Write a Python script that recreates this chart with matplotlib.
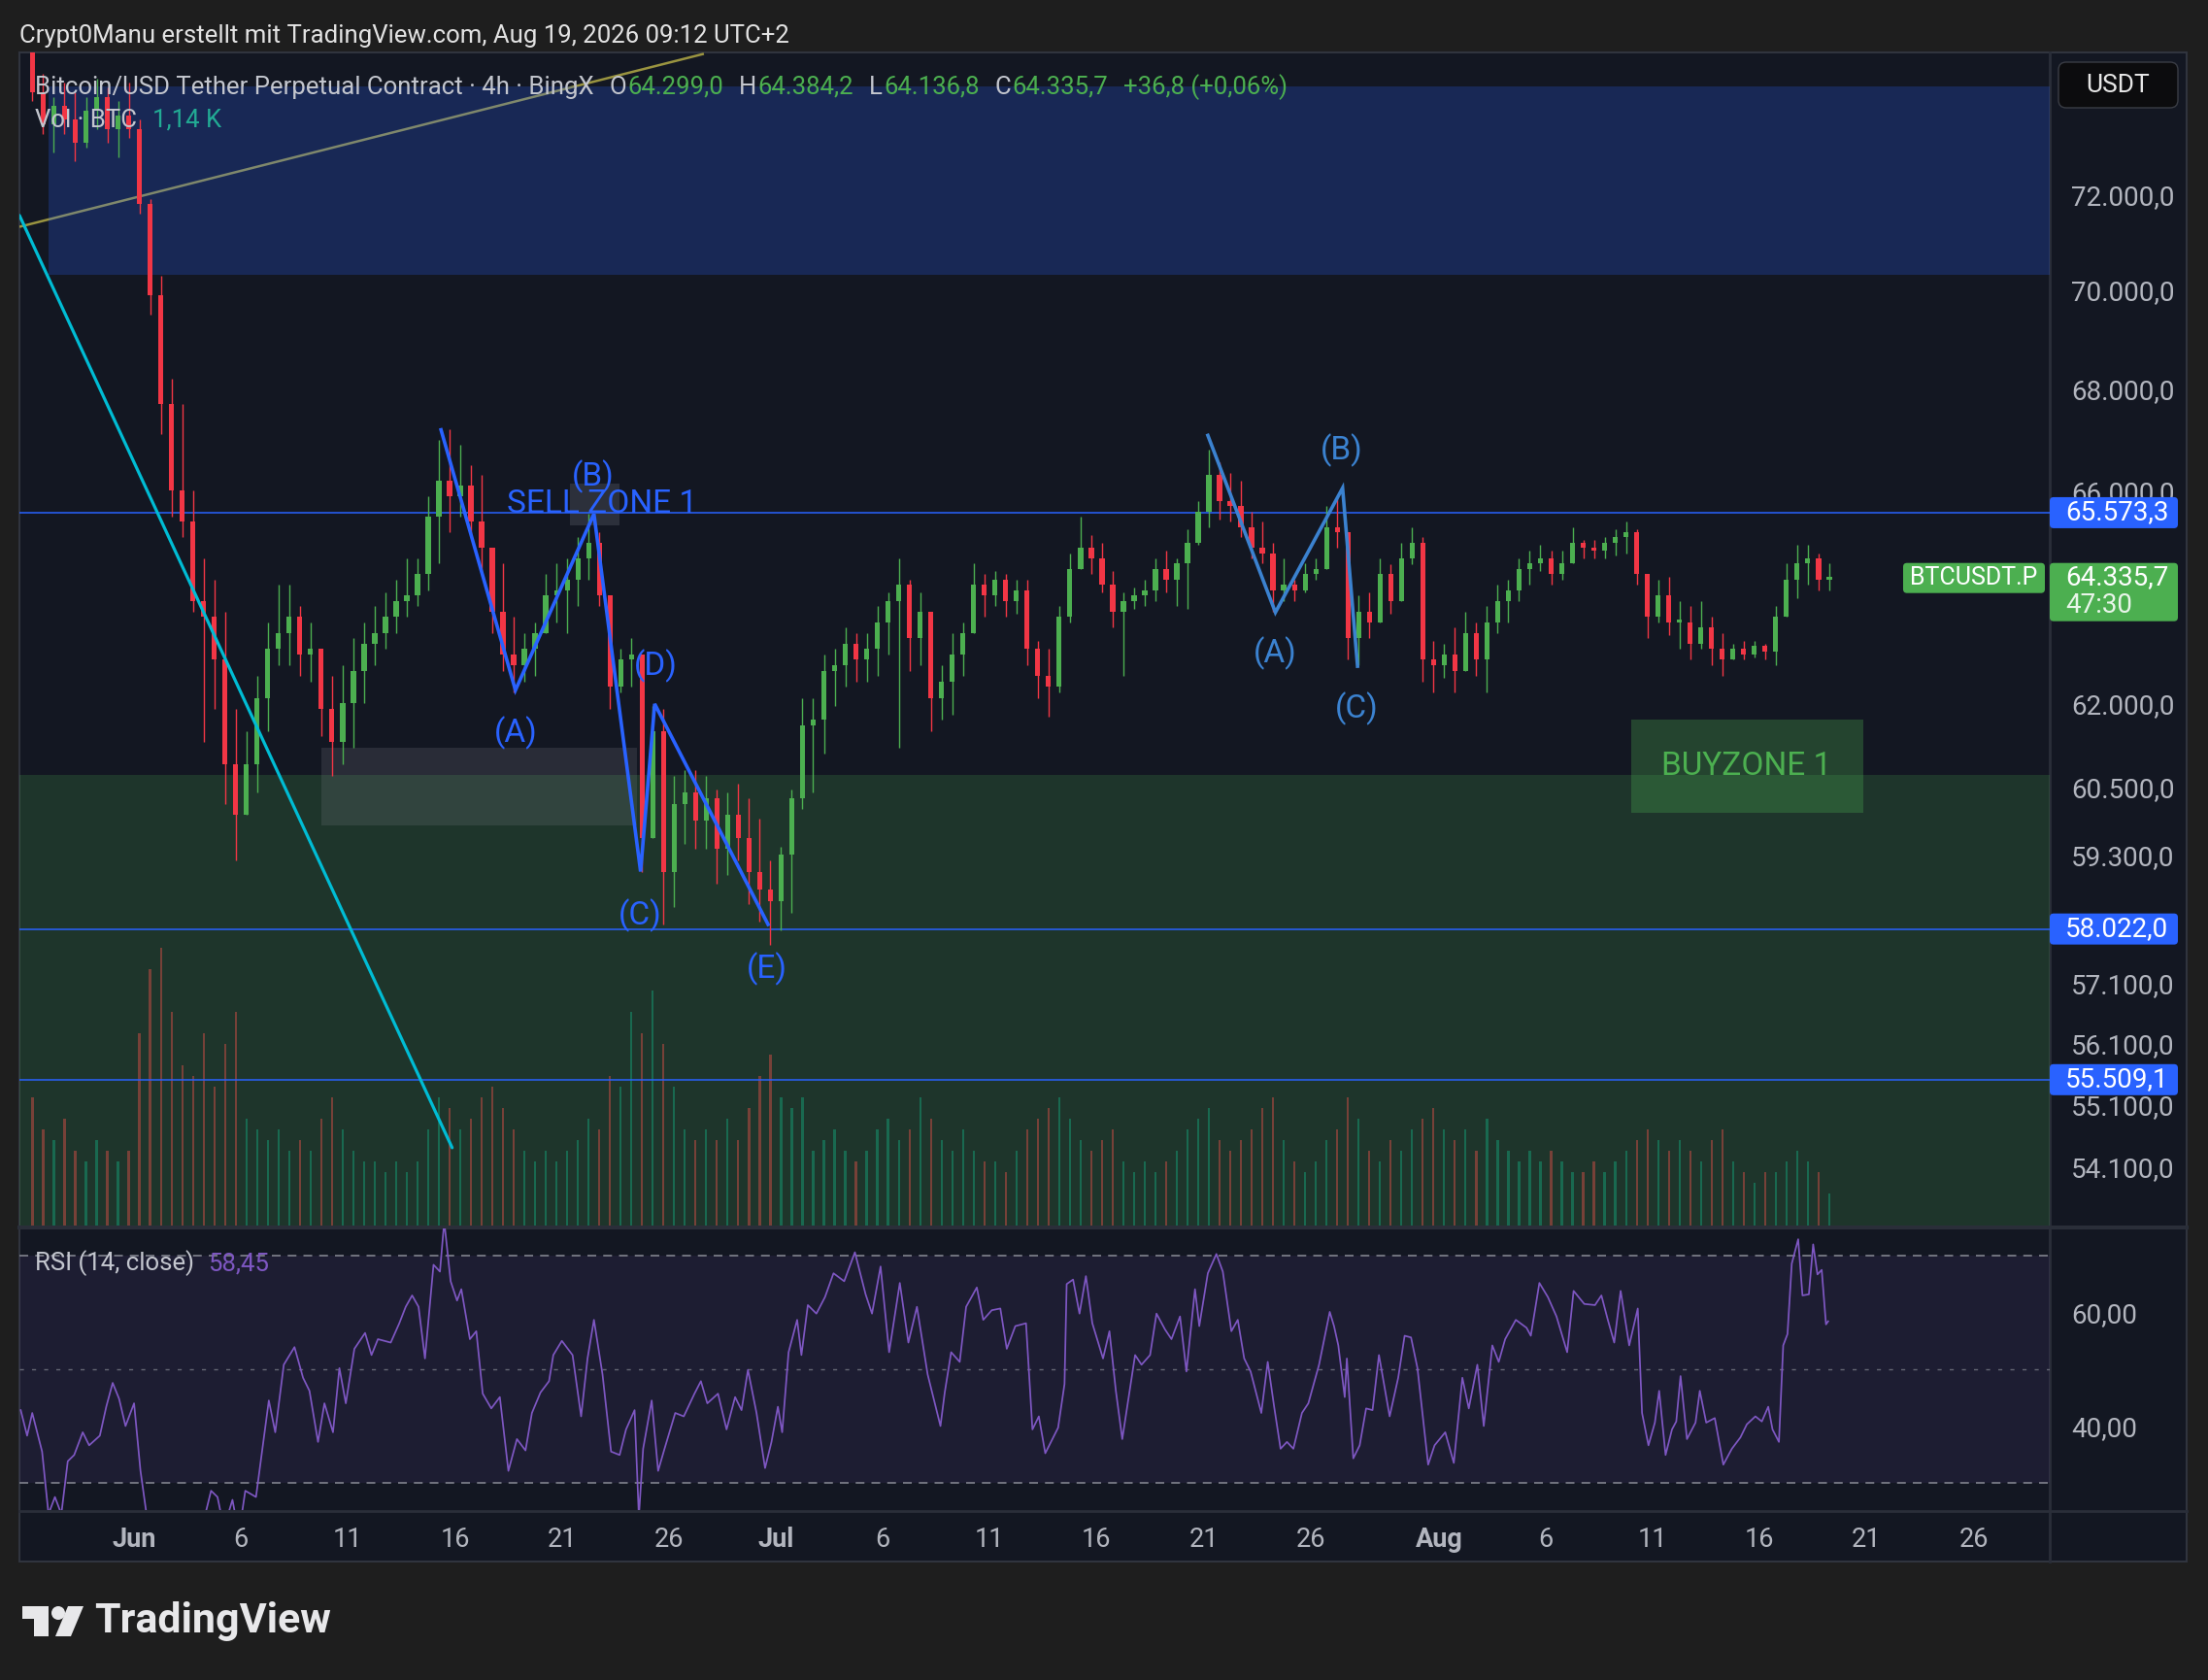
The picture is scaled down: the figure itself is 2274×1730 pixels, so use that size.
import numpy as np
import pandas as pd
import matplotlib
matplotlib.use("Agg")
import matplotlib.pyplot as plt
from matplotlib.patches import Rectangle, FancyBboxPatch, Circle, Polygon
from matplotlib.ticker import FixedLocator, NullLocator, NullFormatter, FuncFormatter

plt.rcParams['font.family'] = ['Roboto', 'DejaVu Sans']

first_open = 75200
closes = [
    74200, 73500, 73900, 73600, 73100, 73800, 74100, 73400, 73700, 73400,
    71800, 69900, 67700, 66000, 65400, 63900, 63600, 62800, 60900, 60000,
    60900, 62100, 63000, 63300, 63600, 62900, 63000, 61900, 61300, 62000,
    62600, 63100, 63300, 63600, 63900, 64000, 64400, 65500, 66200, 65900,
    66100, 65400, 64900, 63700, 62900, 62700, 63000, 63300, 64000, 64100,
    64300, 64700, 65000, 64000, 62300, 62800, 62900, 59600, 61500, 59000,
    60200, 60400, 59900, 60300, 59400, 60000, 59600, 59000, 58700, 58500,
    59300, 60300, 61600, 61700, 62600, 62700, 63100, 62800, 63000, 63500,
    63900, 64200, 63200, 63700, 62100, 62400, 62900, 63300, 64200, 64000,
    64300, 63900, 64100, 63000, 62500, 62300, 63600, 64500, 64900, 64700,
    64200, 63700, 63900, 64000, 64100, 64500, 64300, 64600, 65000, 65600,
    66300, 65800, 65700, 65300, 64900, 64800, 64100, 64200, 64100, 64400,
    64500, 65300, 65200, 63200, 63700, 63500, 64400, 63900, 64700, 65000,
    62800, 62700, 62900, 62600, 63300, 62800, 63500, 63900, 64100, 64500,
    64600, 64700, 64400, 64600, 65000, 64900, 64850, 65000, 65100, 65200,
    64400, 63600, 64000, 63500, 63500, 63100, 63400, 63000, 62800, 63000,
    62900, 63050, 62950, 63600, 64300, 64600, 64700, 64300, 64335.7,
]
highs = [
    75400, 74600, 74100, 74400, 74200, 74100, 74500, 74300, 74000, 74400,
    73600, 71900, 70300, 68200, 67700, 66000, 64700, 64300, 63700, 61900,
    61500, 62500, 63500, 64200, 64200, 63800, 63500, 63000, 62500, 62700,
    63200, 63500, 63800, 64050, 64300, 64700, 64700, 65900, 67000, 67200,
    66900, 66500, 66300, 64900, 64600, 63600, 63300, 63500, 64400, 64600,
    64700, 65100, 65550, 65200, 64000, 63000, 63200, 62900, 61960, 61900,
    60700, 60800, 60800, 60700, 60450, 60400, 60550, 60300, 59940, 59200,
    59440, 60450, 62100, 62100, 62900, 63000, 63400, 63300, 63300, 63800,
    64050, 64700, 64300, 64050, 63400, 62700, 63300, 63500, 64600, 64400,
    64450, 64400, 64300, 64300, 63150, 63000, 63800, 64800, 65500, 65150,
    65000, 64450, 64050, 64150, 64300, 64700, 64850, 64700, 65250, 65800,
    66800, 66550, 66350, 66200, 65600, 65400, 65000, 64700, 64300, 64600,
    64700, 65700, 65900, 65100, 64000, 64050, 64700, 64580, 65000, 65300,
    65100, 63150, 63100, 63400, 63700, 63500, 63800, 64200, 64300, 64700,
    64850, 64950, 64850, 64850, 65300, 65050, 65050, 65100, 65250, 65400,
    65250, 64350, 64300, 64350, 63900, 63800, 63900, 63600, 63300, 63100,
    63150, 63150, 63100, 63800, 64600, 64950, 64950, 64800, 64600,
]
lows = [
    74000, 73300, 72900, 73300, 72700, 73000, 73400, 73100, 72800, 73200,
    71600, 69500, 67100, 65500, 65100, 63700, 61300, 61900, 60200, 59200,
    60300, 60400, 61500, 62700, 62700, 62500, 62400, 61400, 60700, 60900,
    61200, 62000, 62700, 63000, 63300, 63600, 63800, 64100, 64600, 65200,
    65500, 65100, 64400, 63300, 62600, 62200, 62400, 62500, 63300, 63500,
    63300, 63800, 64300, 63800, 61900, 62200, 62300, 59000, 59700, 58100,
    58400, 59500, 59400, 59400, 58800, 58950, 59200, 58450, 58150, 57750,
    58000, 58300, 60100, 60400, 61100, 61960, 62300, 62400, 62400, 62500,
    62900, 61200, 62600, 62700, 61500, 61700, 61800, 62500, 63500, 63600,
    63800, 63600, 63650, 62700, 62100, 61750, 62200, 63500, 64600, 64400,
    64050, 63400, 62500, 63750, 63800, 63900, 64050, 63800, 63750, 64950,
    65300, 65450, 65400, 65100, 64700, 64600, 63700, 63900, 63900, 64050,
    64300, 64700, 64900, 62800, 62700, 63200, 63650, 63650, 64050, 64580,
    62400, 62200, 62470, 62200, 62750, 62500, 62200, 63300, 63500, 63900,
    64200, 64450, 64200, 64300, 64750, 64700, 64700, 64700, 64750, 64800,
    64200, 63200, 63500, 63250, 63000, 62800, 63000, 62700, 62500, 62800,
    62800, 62850, 62800, 62700, 63800, 63950, 64200, 64100, 64100,
]
# volume per 12h, K BTC
volumes = [
    12, 9, 8, 10, 7, 6, 8, 7, 6, 7,
    18, 24, 26, 20, 15, 14, 18, 13, 17, 20,
    10, 9, 8, 9, 7, 8, 7, 10, 12, 9,
    7, 6, 6, 5, 6, 5, 6, 9, 12, 11,
    9, 10, 12, 13, 11, 9, 7, 6, 7, 6,
    7, 8, 10, 9, 14, 13, 20, 18, 22, 17,
    13, 9, 8, 9, 8, 10, 8, 11, 14, 16,
    12, 11, 12, 7, 8, 9, 7, 6, 7, 9,
    10, 8, 9, 12, 10, 8, 7, 9, 7, 6,
    6, 5, 7, 9, 10, 11, 12, 10, 8, 7,
    8, 9, 6, 5, 6, 5, 6, 7, 9, 10,
    11, 8, 7, 8, 9, 11, 12, 8, 6, 5,
    6, 8, 9, 12, 10, 7, 6, 8, 7, 9,
    10, 11, 9, 8, 9, 7, 10, 8, 7, 6,
    7, 6, 7, 6, 5, 5, 6, 5, 6, 7,
    8, 9, 8, 7, 8, 7, 6, 8, 9, 6,
    5, 4, 5, 5, 6, 7, 6, 5, 3,
]
# RSI(14): (days since Jun 1, value)
rsi_points = [
    (-5.3, 42.8), (-5.0, 38.3), (-4.76, 42.3), (-4.3, 35.5), (-4.0, 24.5), (-3.7, 27.5),
    (-3.4, 24.5), (-3.1, 33.8), (-2.8, 34.9), (-2.4, 38.9), (-2.1, 36.6), (-1.6, 38.3),
    (-1.3, 43.4), (-1.0, 47.6), (-0.7, 44.8), (-0.4, 40.0), (0.0, 44.0), (0.3, 32.1),
    (0.6, 24.0), (1.0, 20.0), (1.5, 17.0), (2.0, 19.0), (2.5, 22.0), (3.0, 18.0),
    (3.3, 24.0), (3.6, 28.6), (3.9, 27.5), (4.2, 22.0), (4.6, 27.0), (4.9, 21.0),
    (5.2, 28.6), (5.7, 27.5), (6.0, 36.0), (6.3, 44.5), (6.6, 38.9), (7.0, 50.8),
    (7.5, 53.9), (7.9, 48.5), (8.2, 46.2), (8.6, 37.2), (8.9, 44.0), (9.3, 38.9),
    (9.6, 50.2), (9.9, 44.0), (10.3, 53.6), (10.8, 56.4), (11.1, 52.5), (11.4, 55.3),
    (12.0, 54.7), (12.4, 58.1), (12.7, 61.0), (13.0, 63.0), (13.3, 61.0), (13.6, 51.9),
    (14.0, 68.4), (14.3, 67.2), (14.5, 76.0), (14.8, 65.5), (15.1, 62.1), (15.3, 64.1),
    (15.7, 55.3), (16.0, 56.7), (16.3, 45.7), (16.7, 43.1), (17.1, 45.1), (17.5, 32.1),
    (17.9, 37.7), (18.3, 35.7), (18.6, 42.3), (19.0, 45.9), (19.4, 47.9), (19.6, 52.5),
    (20.0, 55.0), (20.5, 52.5), (20.9, 41.7), (21.2, 51.9), (21.5, 58.7), (21.9, 49.1),
    (22.3, 35.5), (22.7, 34.9), (23.0, 39.4), (23.4, 42.8), (23.6, 24.0), (23.8, 36.0),
    (24.2, 44.5), (24.5, 32.1), (24.8, 36.0), (25.3, 42.3), (25.7, 41.7), (26.2, 45.7),
    (26.5, 47.9), (26.8, 44.0), (27.3, 45.7), (27.7, 39.4), (28.1, 45.1), (28.4, 42.8),
    (28.7, 49.9), (29.1, 42.3), (29.5, 32.6), (29.8, 37.2), (30.1, 43.4), (30.3, 38.9),
    (30.6, 53.0), (31.0, 58.7), (31.2, 52.5), (31.5, 61.3), (31.9, 59.8), (32.3, 62.7),
    (32.7, 66.9), (33.2, 65.5), (33.7, 70.6), (34.2, 63.2), (34.5, 59.8), (34.9, 68.1),
    (35.3, 53.0), (35.8, 65.2), (36.2, 54.7), (36.6, 61.0), (37.1, 49.1), (37.7, 40.0),
    (37.9, 45.9), (38.2, 53.0), (38.6, 51.3), (38.9, 61.0), (39.4, 64.4), (39.7, 58.7),
    (40.1, 60.4), (40.5, 60.7), (40.8, 53.6), (41.2, 57.6), (41.7, 58.1), (42.0, 39.4),
    (42.3, 41.7), (42.6, 35.2), (43.2, 39.7), (43.5, 47.4), (43.6, 65.0), (43.9, 65.8),
    (44.2, 59.8), (44.5, 66.4), (44.8, 58.1), (45.3, 51.9), (45.6, 56.7), (45.9, 46.2),
    (46.2, 37.7), (46.5, 45.1), (46.8, 52.5), (47.1, 50.8), (47.5, 52.5), (47.8, 59.8),
    (48.2, 57.0), (48.5, 55.3), (48.9, 59.3), (49.2, 49.6), (49.6, 64.1), (49.8, 57.6),
    (50.2, 66.9), (50.6, 70.3), (50.9, 67.2), (51.3, 56.7), (51.6, 58.7), (51.9, 51.9),
    (52.2, 49.6), (52.7, 42.3), (53.0, 51.3), (53.3, 43.4), (53.6, 36.0), (53.9, 37.2),
    (54.2, 36.0), (54.6, 42.3), (54.9, 44.0), (55.4, 50.8), (55.9, 60.1), (56.1, 57.6),
    (56.3, 54.2), (56.6, 45.1), (56.7, 51.9), (57.0, 34.3), (57.3, 36.6), (57.6, 43.1),
    (57.9, 42.8), (58.2, 52.5), (58.7, 41.7), (59.1, 48.5), (59.4, 55.9), (59.7, 55.6),
    (60.0, 50.2), (60.5, 33.2), (60.8, 36.6), (61.3, 38.9), (61.7, 33.5), (62.1, 48.5),
    (62.4, 43.1), (62.8, 50.8), (63.1, 40.0), (63.5, 54.2), (63.8, 51.3), (64.1, 55.3),
    (64.6, 58.7), (65.1, 57.3), (65.3, 55.9), (65.7, 65.2), (66.1, 62.7), (66.5, 59.3),
    (67.0, 53.0), (67.3, 63.8), (67.8, 61.5), (68.3, 61.3), (68.6, 63.0), (68.9, 58.7),
    (69.2, 54.7), (69.5, 63.8), (69.9, 54.2), (70.3, 60.7), (70.5, 42.3), (70.8, 36.6),
    (71.1, 40.6), (71.3, 46.2), (71.6, 34.9), (71.9, 39.4), (72.1, 40.8), (72.3, 48.8),
    (72.6, 37.7), (73.0, 40.6), (73.2, 46.2), (73.5, 40.6), (73.9, 41.4), (74.3, 33.2),
    (74.7, 36.0), (75.1, 38.0), (75.4, 40.3), (75.8, 41.7), (76.1, 40.8), (76.4, 43.4),
    (76.6, 39.4), (76.9, 37.2), (77.1, 54.2), (77.3, 56.2), (77.5, 68.6), (77.8, 72.9),
    (78.0, 63.0), (78.3, 63.2), (78.5, 72.0), (78.7, 66.7), (78.9, 67.5), (79.1, 57.9),
    (79.2, 58.45),
]

levels = [65573.3, 58022.0, 55509.1]
last_price = 64335.7
price_ticks = [54100, 55100, 56100, 57100, 59300, 60500, 62000, 66000, 68000, 70000, 72000]
rsi_ticks = [40, 60]
tick_dates = ['2026-06-01', '2026-06-06', '2026-06-11', '2026-06-16', '2026-06-21', '2026-06-26',
              '2026-07-01', '2026-07-06', '2026-07-11', '2026-07-16', '2026-07-21', '2026-07-26',
              '2026-08-01', '2026-08-06', '2026-08-11', '2026-08-16', '2026-08-21', '2026-08-26']
tick_labels = ['Jun', '6', '11', '16', '21', '26', 'Jul', '6', '11', '16', '21', '26',
               'Aug', '6', '11', '16', '21', '26']

# drawings (days since Jun 1, price)
wave_left = [(14.35, 67190), (17.83, 62240), (21.5, 65550), (23.68, 59010), (24.34, 61990), (29.64, 58100)]
wave_right = [(50.2, 67080), (53.36, 63680), (56.5, 66050), (57.2, 62680)]
labels_left = [('(A)', 17.83, 61470), ('(B)', 21.45, 66280), ('(C)', 23.68, 58250),
               ('(D)', 24.4, 62680), ('(E)', 29.6, 57350)]
labels_right = [('(A)', 53.36, 62910), ('(B)', 56.45, 66780), ('(C)', 57.17, 61910)]
cyan_line = [(-5.36, 71560), (14.87, 54410)]
olive_line = [(-5.36, 71320), (26.64, 75040)]

W, H = 2274, 1730
BG = '#131722'
OUTER = '#1e1e1e'
SEP = '#2a2e39'
TXT = '#b2b5be'
UP = '#4caf50'
DOWN = '#f23645'
BLUE = '#2962ff'
BLUE2 = '#3b82d0'
PURPLE = '#7e57c2'


def de_num(v, dec):
    s = f"{v:,.{dec}f}"
    return s.replace(",", "X").replace(".", ",").replace("X", ".")


t0 = pd.Timestamp('2026-06-01')


def days(ts):
    return np.asarray((pd.to_datetime(ts) - t0) / pd.Timedelta(days=1), dtype=float)


times = pd.date_range('2026-05-27 00:00', periods=len(closes), freq='12h')
x = days(times) + 0.25
c = np.array(closes, dtype=float)
o = np.r_[first_open, c[:-1]]
hi = np.maximum(np.array(highs, dtype=float), np.maximum(o, c))
lo = np.minimum(np.array(lows, dtype=float), np.minimum(o, c))
up = c >= o

fig = plt.figure(figsize=(W / 100, H / 100), dpi=100)
fig.patch.set_facecolor(OUTER)


def frac(x0, y0, x1, y1):
    return [x0 / W, 1 - y1 / H, (x1 - x0) / W, (y1 - y0) / H]


back = fig.add_axes([0, 0, 1, 1], zorder=-2)
back.set_xlim(0, W)
back.set_ylim(H, 0)
back.axis('off')
back.add_patch(Rectangle((20, 54), 2232, 1554, fc=BG, ec='#30343e', lw=1.5))
back.plot([2111, 2111], [54, 1608], color=SEP, lw=2)
back.plot([20, 2252], [1263.5, 1263.5], color=SEP, lw=3)
back.plot([20, 2252], [1556, 1556], color=SEP, lw=2)

XL = (-5.36, 89.56)
vax = fig.add_axes(frac(20, 54, 2111, 1262), zorder=0)
ax = fig.add_axes(frac(20, 54, 2111, 1262), zorder=1)
rax = fig.add_axes(frac(20, 1265, 2111, 1555), zorder=1)
for a in (vax, ax, rax):
    a.set_facecolor('none')
    for s in a.spines.values():
        s.set_visible(False)
    a.set_xlim(*XL)

# volume overlay
vax.axis('off')
vax.bar(x, volumes, width=0.1, color=np.where(up, '#089981', DOWN), alpha=0.5, linewidth=0)
vax.set_ylim(0, 110)
vax.set_xlim(*XL)

# price pane
ax.set_yscale('log')
ax.set_ylim(53180, 75070)
ax.add_patch(Rectangle((-4.01, 70322), 100, 74318 - 70322, fc=BLUE, alpha=0.23, ec='none', zorder=1))
ax.add_patch(Rectangle((-10, 40000), 110, 60706 - 40000, fc=UP, alpha=0.2, ec='none', zorder=1))
ax.add_patch(Rectangle((8.75, 59810), 23.5 - 8.75, 61190 - 59810, fc='#787b86', alpha=0.22, ec='none', zorder=1))
ax.add_patch(Rectangle((20.4, 65330), 22.7 - 20.4, 66130 - 65330, fc='#787b86', alpha=0.25, ec='none', zorder=1))
ax.add_patch(Rectangle((70.0, 60040), 80.86 - 70.0, 61700 - 60040, fc=UP, alpha=0.3, ec='none', zorder=1))

ax.plot(*zip(*olive_line), color='#9a9440', lw=1.8, zorder=0.8, solid_capstyle='butt')

for lv in levels:
    ax.axhline(lv, color=BLUE, lw=1.1, zorder=2)

cols = np.where(up, UP, DOWN)
ax.vlines(x, lo, hi, colors=cols, lw=1.0, zorder=3)
ax.bar(x, np.maximum(np.abs(c - o), 40), bottom=np.minimum(o, c), width=0.24,
       color=cols, linewidth=0, zorder=3)

ax.plot(*zip(*cyan_line), color='#00bcd4', lw=2.3, zorder=4, solid_capstyle='round')
ax.plot(*zip(*wave_left), color=BLUE, lw=2.6, zorder=5, solid_joinstyle='miter')
ax.plot(*zip(*wave_right), color=BLUE2, lw=2.6, zorder=5, solid_joinstyle='miter')
for t, dx, py in labels_left:
    ax.text(dx, py, t, color=BLUE, fontsize=24, ha='center', va='center', zorder=6)
for t, dx, py in labels_right:
    ax.text(dx, py, t, color=BLUE2, fontsize=24, ha='center', va='center', zorder=6)
ax.text(21.9, 65736, 'SELL ZONE 1', color=BLUE, fontsize=24, ha='center', va='center', zorder=6)
ax.text(75.4, 60867, 'BUYZONE 1', color=UP, fontsize=24, ha='center', va='center', zorder=6)

ax.yaxis.tick_right()
ax.yaxis.set_major_locator(FixedLocator(price_ticks))
ax.yaxis.set_minor_locator(NullLocator())
ax.yaxis.set_minor_formatter(NullFormatter())
ax.yaxis.set_major_formatter(FuncFormatter(lambda v, p: de_num(v, 1)))
ax.tick_params(axis='y', length=0, pad=16, labelsize=20, labelcolor=TXT)
ax.tick_params(axis='x', bottom=False, labelbottom=False)
ax.set_xlim(*XL)

# RSI pane
rd, rv = zip(*rsi_points)
rax.set_ylim(25.2, 74.8)
rax.axhspan(30, 70, color=PURPLE, alpha=0.1, lw=0)
rax.axhline(70, color='#787b86', lw=1.3, ls=(0, (5, 4)))
rax.axhline(30, color='#787b86', lw=1.3, ls=(0, (5, 4)))
rax.axhline(50, color='#787b86', lw=1.0, ls=(0, (3, 6)), alpha=0.8)
rax.plot(rd, rv, color=PURPLE, lw=1.25)
rax.yaxis.tick_right()
rax.yaxis.set_major_locator(FixedLocator(rsi_ticks))
rax.yaxis.set_major_formatter(FuncFormatter(lambda v, p: de_num(v, 2)))
rax.tick_params(axis='y', length=0, pad=16, labelsize=20, labelcolor=TXT)
rax.set_xticks(days(tick_dates))
rax.set_xticklabels(tick_labels)
rax.tick_params(axis='x', length=0, pad=12.5, labelsize=19.5, labelcolor=TXT)
for lab in rax.get_xticklabels():
    if lab.get_text() in ('Jun', 'Jul', 'Aug'):
        lab.set_fontweight('bold')
rax.set_xlim(*XL)

# overlay in pixel coordinates
top = fig.add_axes([0, 0, 1, 1], zorder=5)
top.set_xlim(0, W)
top.set_ylim(H, 0)
top.axis('off')
renderer = fig.canvas.get_renderer()


def segments(x0, y0, parts, size):
    for text, col, gap in parts:
        t = top.text(x0, y0, text, color=col, fontsize=size, va='center', ha='left')
        x0 += t.get_window_extent(renderer=renderer).width + gap


top.text(20, 37, 'Crypt0Manu erstellt mit TradingView.com, Aug 19, 2026 09:12 UTC+2',
         color='#e2e2e2', fontsize=18.5, va='center', ha='left')
LG = '#c3c6ce'
segments(36, 90, [('Bitcoin/USD Tether Perpetual Contract · 4h · BingX', LG, 16),
                  ('O', LG, 1), ('64.299,0', UP, 16), ('H', LG, 1), ('64.384,2', UP, 16),
                  ('L', LG, 1), ('64.136,8', UP, 16), ('C', LG, 1), ('64.335,7', UP, 16),
                  ('+36,8 (+0,06%)', UP, 0)], 18.5)
segments(36, 124, [('Vol · BTC', LG, 16), ('1,14 K', '#22ab94', 0)], 18.5)
segments(36, 1301, [('RSI (14, close)', LG, 14), ('58,45', PURPLE, 0)], 18.5)


def ypix(level):
    return H - ax.transData.transform((0, level))[1]


for lv in levels:
    yy = ypix(lv)
    top.add_patch(FancyBboxPatch((2111, yy - 16), 132, 32, boxstyle='round,pad=0,rounding_size=4',
                                 fc=BLUE, ec='none'))
    top.text(2127, yy, de_num(lv, 1), color='white', fontsize=20, va='center', ha='left')

yy = ypix(last_price)
top.add_patch(FancyBboxPatch((2111, yy - 15), 132, 60, boxstyle='round,pad=0,rounding_size=4',
                             fc=UP, ec='none'))
top.text(2127, yy, de_num(last_price, 1), color='white', fontsize=20, va='center', ha='left')
top.text(2127, yy + 29, '47:30', color='#e8f5e9', fontsize=20, va='center', ha='left')
top.add_patch(FancyBboxPatch((1960, yy - 15), 146, 31, boxstyle='round,pad=0,rounding_size=4',
                             fc=UP, ec='none'))
top.text(2033, yy, 'BTCUSDT.P', color='white', fontsize=18, va='center', ha='center')

top.add_patch(FancyBboxPatch((2120, 64), 123, 47, boxstyle='round,pad=0,rounding_size=8',
                             fc='#0c0c0e', ec='#3a3d45', lw=1))
top.text(2181, 88, 'USDT', color='#e6e6e6', fontsize=19, va='center', ha='center')

# TradingView logo
LOGO = '#e8e8ea'
top.add_patch(Polygon([(23, 1654), (50, 1654), (50, 1685), (35, 1685), (35, 1667), (23, 1667)],
                      closed=True, fc=LOGO, ec='none'))
top.add_patch(Circle((60, 1661), 7, fc=LOGO, ec='none'))
top.add_patch(Polygon([(70, 1654), (86, 1654), (73, 1685), (57, 1685)], closed=True, fc=LOGO, ec='none'))
top.text(97, 1670, 'TradingView', color=LOGO, fontsize=31, fontweight='bold', va='center', ha='left')

fig.savefig('out.png', dpi=100, facecolor=OUTER)
